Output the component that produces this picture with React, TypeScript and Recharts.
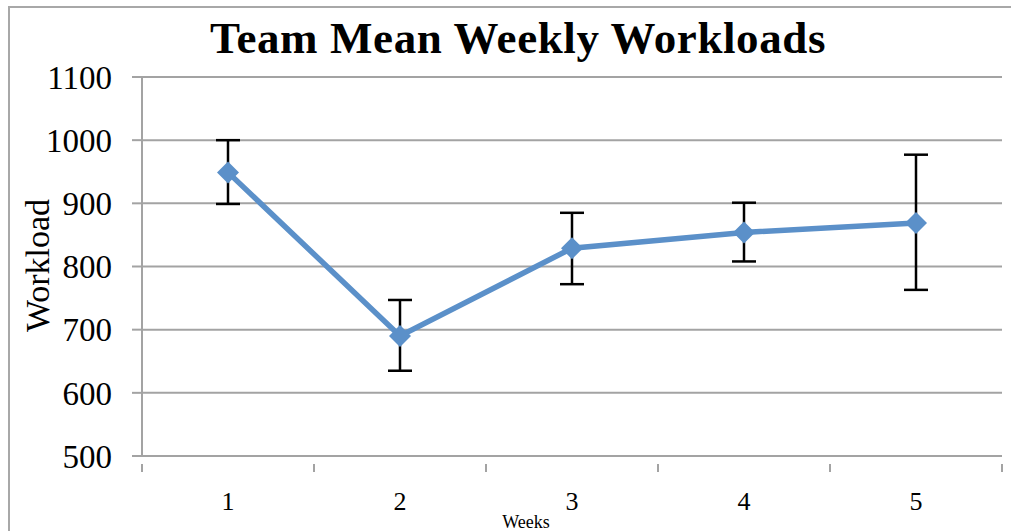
import { LineChart, Line, XAxis, YAxis, CartesianGrid, ErrorBar } from 'recharts'

const weeks = [1, 2, 3, 4, 5]
const meanWorkload = [949, 690, 829, 854, 869]
const lowWorkload = [899, 635, 772, 808, 763]
const highWorkload = [1000, 747, 885, 901, 977]
const yTicks = [500, 600, 700, 800, 900, 1000, 1100]
const xTicks = [0.5, 1, 1.5, 2, 2.5, 3, 3.5, 4, 4.5, 5, 5.5]

const chartData = weeks.map((week, i) => ({
  week,
  mean: meanWorkload[i],
  err: [meanWorkload[i] - lowWorkload[i], highWorkload[i] - meanWorkload[i]],
}))

const BLUE = '#5b90c9'
const GRID = '#a3a3a3'
const FONT = '"Liberation Serif", "DejaVu Serif", serif'

function Diamond(props: any) {
  const { cx, cy, index } = props
  if (cx == null || cy == null) return null
  const r = 11
  return (
    <path
      key={`d-${index}`}
      d={`M${cx},${cy - r} L${cx + r},${cy} L${cx},${cy + r} L${cx - r},${cy} Z`}
      fill={BLUE}
    />
  )
}

function WeekTick(props: any) {
  const { x, y, payload } = props
  const v = payload.value
  if (Number.isInteger(v)) {
    return (
      <text x={x} y={y + 46} textAnchor="middle" fontFamily={FONT} fontSize={26} fill="#000">
        {v}
      </text>
    )
  }
  return <line x1={x} x2={x} y1={y} y2={y + 8} stroke={GRID} strokeWidth={2} />
}

function YLabel(props: any) {
  const { viewBox } = props
  const x = viewBox.x + 27
  const y = viewBox.y + viewBox.height / 2 - 1
  return (
    <text
      x={x}
      y={y}
      transform={`rotate(-90, ${x}, ${y})`}
      textAnchor="middle"
      dominantBaseline="central"
      fontFamily={FONT}
      fontSize={34}
      fill="#000"
    >
      Workload
    </text>
  )
}

function XLabel(props: any) {
  const { viewBox } = props
  return (
    <text
      x={viewBox.x + viewBox.width / 2 - 46}
      y={viewBox.y + 72}
      textAnchor="middle"
      fontFamily={FONT}
      fontSize={18}
      fill="#000"
    >
      Weeks
    </text>
  )
}

export default function App() {
  return (
    <div style={{ position: 'absolute', left: 0, top: 0, width: 1011, height: 531, overflow: 'hidden', background: '#fff' }}>
      <div
        style={{
          position: 'absolute',
          left: 8,
          top: 6,
          width: 1100,
          height: 600,
          border: '2px solid #a8a8a8',
        }}
      />
      <div
        style={{
          position: 'absolute',
          left: 0,
          top: 12,
          width: 1036,
          textAlign: 'center',
          fontFamily: FONT,
          fontWeight: 'bold',
          fontSize: 45,
          letterSpacing: 0.6,
          lineHeight: '52px',
          color: '#000',
        }}
      >
        Team Mean Weekly Workloads
      </div>
      <div style={{ position: 'absolute', left: 0, top: 0 }}>
        <LineChart width={1011} height={531} data={chartData} margin={{ top: 77, right: 9, left: 10, bottom: 0 }}>
          <CartesianGrid vertical={false} stroke={GRID} strokeWidth={2} />
          <XAxis
            dataKey="week"
            type="number"
            domain={[0.5, 5.5]}
            ticks={xTicks}
            interval={0}
            height={75}
            tickLine={false}
            axisLine={{ stroke: GRID, strokeWidth: 2 }}
            tick={<WeekTick />}
            label={{ content: <XLabel /> }}
          />
          <YAxis
            domain={[500, 1100]}
            ticks={yTicks}
            interval={0}
            width={132}
            tickSize={10}
            tickMargin={20}
            axisLine={{ stroke: GRID, strokeWidth: 2 }}
            tickLine={{ stroke: GRID, strokeWidth: 2 }}
            tick={{ fontFamily: FONT, fontSize: 33, fill: '#000' }}
            label={{ content: <YLabel /> }}
          />
          <Line
            dataKey="mean"
            stroke={BLUE}
            strokeWidth={5.5}
            dot={<Diamond />}
            activeDot={false}
            isAnimationActive={false}
          >
            <ErrorBar dataKey="err" direction="y" width={12} stroke="#000" strokeWidth={2.5} isAnimationActive={false} />
          </Line>
        </LineChart>
      </div>
    </div>
  )
}
